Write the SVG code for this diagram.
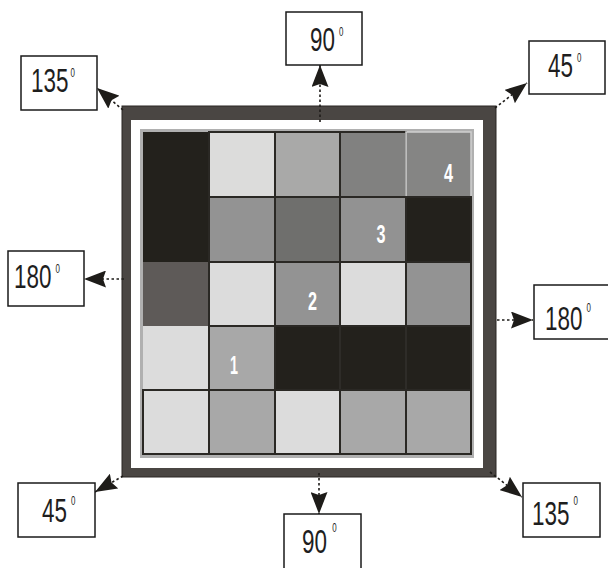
<svg xmlns="http://www.w3.org/2000/svg" width="608" height="568" viewBox="0 0 608 568">
<style>
.box{fill:#fff;stroke:#1a1a1a;stroke-width:1.5}
.dg{font-family:"Liberation Sans",Arial,sans-serif;font-size:34px;fill:#1e1e1e}
.sp{font-size:12px}
.num{font-family:"Liberation Sans",Arial,sans-serif;font-size:25px;font-weight:bold;fill:#fff;text-anchor:middle}
.cell{stroke:#2a2824;stroke-width:2}
.arr{stroke:#1e1c19;stroke-width:1.6;stroke-dasharray:2.5 2.5;fill:none;marker-end:url(#ah)}
</style>
<defs>
<marker id="ah" markerUnits="userSpaceOnUse" markerWidth="22" markerHeight="17" viewBox="0 0 22 17" refX="22" refY="8.5" orient="auto">
<path d="M0,0 L22,8.5 L0,17 L3,8.5 z" fill="#1e1c19"/>
</marker>
</defs>
<rect width="608" height="568" fill="#fff"/>
<g id="frame">
<rect x="122" y="106" width="374" height="371" fill="#4a4643" stroke="#2a2724" stroke-width="1"/>
<rect x="131" y="120" width="352" height="348" fill="#fff"/>
<rect x="140" y="129" width="334" height="329" fill="#b0b0b0"/>
</g>
<g id="grid">
<rect x="143" y="132" width="66" height="194" fill="#23211c"/>
<rect class="cell" x="209" y="132" width="66" height="65" fill="#dcdcdb"/>
<rect class="cell" x="275" y="132" width="65" height="65" fill="#a9a9a8"/>
<rect class="cell" x="340" y="132" width="66" height="65" fill="#818180"/>
<rect x="406" y="132" width="65" height="65" fill="#858584" stroke="#cfcfcf" stroke-width="1.5"/>
<rect class="cell" x="209" y="197" width="66" height="65" fill="#939393"/>
<rect class="cell" x="275" y="197" width="65" height="65" fill="#6f6f6d"/>
<rect class="cell" x="340" y="197" width="66" height="65" fill="#929292"/>
<rect class="cell" x="406" y="197" width="65" height="65" fill="#23211c"/>
<rect x="143" y="262" width="66" height="64" fill="#5e5a58"/>
<rect class="cell" x="209" y="262" width="66" height="64" fill="#dcdcdc"/>
<rect class="cell" x="275" y="262" width="65" height="64" fill="#939393"/>
<rect class="cell" x="340" y="262" width="66" height="64" fill="#dcdcdc"/>
<rect class="cell" x="406" y="262" width="65" height="64" fill="#939393"/>
<rect x="143" y="326" width="66" height="64" fill="#dcdcdc"/>
<rect class="cell" x="209" y="326" width="66" height="64" fill="#a8a8a8"/>
<rect x="275" y="326" width="196" height="64" fill="#23211c" stroke="#2a2824" stroke-width="2"/>
<line x1="340" y1="327" x2="340" y2="389" stroke="#3a3835" stroke-width="1"/>
<line x1="406" y1="327" x2="406" y2="389" stroke="#3a3835" stroke-width="1"/>
<rect class="cell" x="143" y="390" width="66" height="64" fill="#dcdcdc"/>
<rect class="cell" x="209" y="390" width="66" height="64" fill="#a8a8a8"/>
<rect class="cell" x="275" y="390" width="65" height="64" fill="#dcdcdc"/>
<rect class="cell" x="340" y="390" width="66" height="64" fill="#a8a8a8"/>
<rect class="cell" x="406" y="390" width="65" height="64" fill="#a8a8a8"/>
<text class="num" x="448.5" y="182" textLength="9" lengthAdjust="spacingAndGlyphs">4</text>
<text class="num" x="381" y="243" textLength="9" lengthAdjust="spacingAndGlyphs">3</text>
<text class="num" x="312.5" y="310" textLength="9" lengthAdjust="spacingAndGlyphs">2</text>
<text class="num" x="234" y="374" textLength="8" lengthAdjust="spacingAndGlyphs">1</text>
</g>
<g id="connectors">
<line class="arr" x1="320" y1="122" x2="320" y2="65"/>
<line class="arr" x1="319" y1="473" x2="319" y2="514"/>
<line class="arr" x1="124" y1="279" x2="84" y2="279"/>
<line class="arr" x1="497" y1="320" x2="533" y2="320"/>
<line class="arr" x1="123" y1="110" x2="97" y2="88"/>
<line class="arr" x1="495" y1="108" x2="527" y2="83"/>
<line class="arr" x1="123" y1="476" x2="95" y2="492"/>
<line class="arr" x1="490" y1="472" x2="522" y2="497"/>
</g>
<g id="label-90-top">
<rect class="box" x="286" y="12" width="76" height="53"/>
<text class="dg" transform="translate(310,51) scale(0.66,1)">90<tspan class="sp" dx="6" dy="-15">0</tspan></text>
</g>
<g id="label-135-tl">
<rect class="box" x="21" y="56" width="76" height="54"/>
<text class="dg" transform="translate(31,92) scale(0.66,1)">135<tspan class="sp" dx="3" dy="-15">0</tspan></text>
</g>
<g id="label-45-tr">
<rect class="box" x="529" y="41" width="76" height="53"/>
<text class="dg" transform="translate(548,77) scale(0.66,1)">45<tspan class="sp" dx="6" dy="-15">0</tspan></text>
</g>
<g id="label-180-l">
<rect class="box" x="8" y="251" width="76" height="55"/>
<text class="dg" transform="translate(14,288) scale(0.66,1)">180<tspan class="sp" dx="6" dy="-15">0</tspan></text>
</g>
<g id="label-180-r">
<rect class="box" x="534" y="285" width="80" height="54"/>
<text class="dg" transform="translate(545,330) scale(0.66,1)">180<tspan class="sp" dx="6" dy="-18">0</tspan></text>
</g>
<g id="label-45-bl">
<rect class="box" x="18" y="483" width="77" height="54"/>
<text class="dg" transform="translate(42,522) scale(0.66,1)">45<tspan class="sp" dx="6" dy="-17">0</tspan></text>
</g>
<g id="label-90-b">
<rect class="box" x="284" y="514" width="77" height="60"/>
<text class="dg" transform="translate(302,553) scale(0.66,1)">90<tspan class="sp" dx="8" dy="-21">0</tspan></text>
</g>
<g id="label-135-br">
<rect class="box" x="523" y="483" width="77" height="54"/>
<text class="dg" transform="translate(532,525) scale(0.66,1)">135<tspan class="sp" dx="6" dy="-20">0</tspan></text>
</g>
</svg>
